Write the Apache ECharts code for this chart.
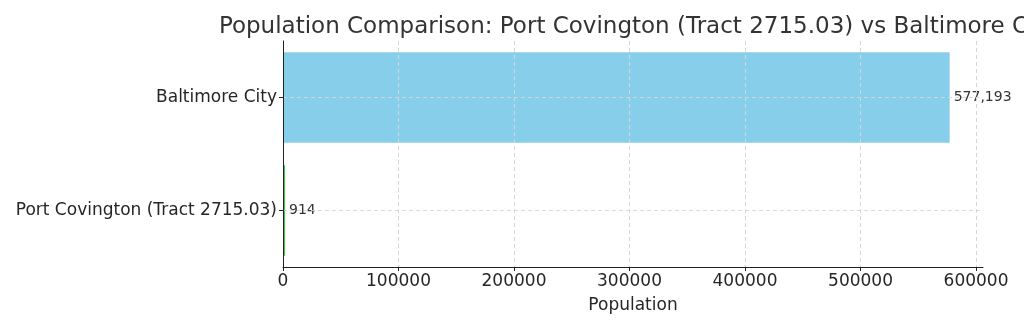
<!DOCTYPE html>
<html>
<head>
<meta charset="utf-8">
<script src="https://cdn.jsdelivr.net/npm/echarts@6/dist/echarts.min.js"></script>
<style>
  html, body { margin: 0; padding: 0; background: #ffffff; }
  #chart { width: 1024px; height: 328px; }
</style>
</head>
<body>
<div id="chart"></div>
<script>
// Areas compared, bottom to top
const categories = ['Port Covington (Tract 2715.03)', 'Baltimore City'];
const populations = [914, 577193];
const barColors = ['#3cc83c', '#87ceeb'];
const xTicks = [0, 100000, 200000, 300000, 400000, 500000, 600000];
const xMax = 606053;

const font = 'DejaVu Sans, sans-serif';
const chart = echarts.init(document.getElementById('chart'), null, { renderer: 'canvas' });

chart.setOption({
  backgroundColor: '#ffffff',
  animation: false,
  title: {
    text: 'Population Comparison: Port Covington (Tract 2715.03) vs Baltimore City',
    left: 633,
    top: 11,
    textAlign: 'center',
    textStyle: { fontFamily: font, fontSize: 23, fontWeight: 'normal', color: '#333333' }
  },
  grid: { left: 283, right: 41, top: 41, bottom: 61, containLabel: false },
  xAxis: {
    type: 'value',
    min: 0,
    max: xMax,
    interval: 100000,
    z: 5,
    name: 'Population',
    nameLocation: 'middle',
    nameGap: 30,
    nameTextStyle: { fontFamily: font, fontSize: 17, color: '#262626' },
    axisLine: { show: true, lineStyle: { color: '#222222', width: 1 } },
    axisTick: { show: true, length: 4, inside: false, customValues: xTicks, lineStyle: { color: '#222222' } },
    axisLabel: {
      customValues: xTicks,
      margin: 6,
      fontFamily: font, fontSize: 17, color: '#262626',
      formatter: v => String(v)
    },
    splitLine: { show: true, lineStyle: { color: '#d6d6d6', type: [4, 3], width: 1 } }
  },
  yAxis: {
    type: 'category',
    data: categories,
    z: 6,
    axisLine: { show: true, lineStyle: { color: '#222222', width: 1 } },
    axisTick: { show: true, alignWithLabel: true, length: 4, lineStyle: { color: '#222222' } },
    axisLabel: { margin: 6, padding: [4, 0, 0, 0], fontFamily: font, fontSize: 17, color: '#262626' },
    splitLine: { show: false }
  },
  series: [{
    type: 'bar',
    barWidth: '80%',
    barMinHeight: 2,
    data: populations.map((v, i) => ({ value: v, itemStyle: { color: barColors[i] } })),
    label: {
      show: true,
      position: 'right',
      distance: 4,
      fontFamily: font,
      fontSize: 14,
      color: '#333333',
      formatter: p => p.value.toLocaleString('en-US')
    },
    markLine: {
      silent: true,
      symbol: 'none',
      label: { show: false },
      lineStyle: { color: '#d6d6d6', type: [4, 3], width: 1, opacity: 0.9 },
      data: categories.map(c => ({ yAxis: c }))
    }
  }]
});
</script>
</body>
</html>
